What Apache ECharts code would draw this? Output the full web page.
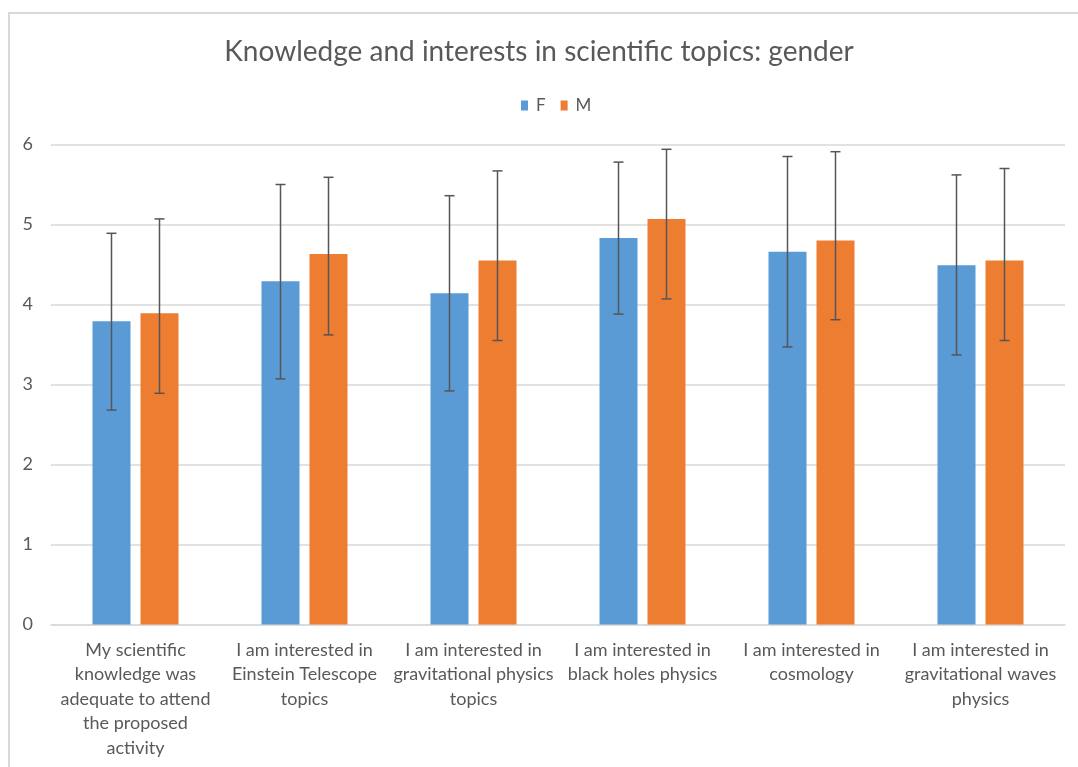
<!DOCTYPE html>
<html>
<head>
<meta charset="utf-8">
<script src="https://cdn.jsdelivr.net/npm/echarts@6/dist/echarts.min.js"></script>
<style>
  html, body { margin: 0; padding: 0; background: #ffffff; }
  #chart { width: 1078px; height: 767px; }
</style>
</head>
<body>
<div id="chart"></div>
<script>
// ---- data ----
const categories = [
  "My scientific\nknowledge was\nadequate to attend\nthe proposed\nactivity",
  "I am interested in\nEinstein Telescope\ntopics",
  "I am interested in\ngravitational physics\ntopics",
  "I am interested in\nblack holes physics",
  "I am interested in\ncosmology",
  "I am interested in\ngravitational waves\nphysics"
];
const seriesNames = ["F", "M"];
const valuesF = [3.79, 4.29, 4.14, 4.83, 4.66, 4.49];
const valuesM = [3.89, 4.63, 4.55, 5.07, 4.80, 4.55];
const errLowF  = [2.68, 3.07, 2.92, 3.88, 3.47, 3.37];
const errHighF = [4.89, 5.50, 5.36, 5.78, 5.85, 5.62];
const errLowM  = [2.89, 3.62, 3.55, 4.07, 3.81, 3.55];
const errHighM = [5.07, 5.59, 5.67, 5.94, 5.91, 5.70];
const yTicks = [0, 1, 2, 3, 4, 5, 6];

// ---- styling ----
const COLOR_F = "#5B9BD5";
const COLOR_M = "#ED7D31";
const TEXT = "#595959";
const BAR_W = 38;
const GAP_PX = 10;
const FONT = "Lato, 'Open Sans', sans-serif";

function errorSeries(name, lows, highs, sign) {
  return {
    type: "custom",
    name: name + " err",
    z: 10,
    silent: true,
    data: lows.map((lo, i) => [i, lo, highs[i]]),
    encode: { x: 0, y: [1, 2] },
    renderItem: function (params, api) {
      const xi = api.value(0);
      const lo = api.coord([xi, api.value(1)]);
      const hi = api.coord([xi, api.value(2)]);
      const x = lo[0] + sign * (BAR_W + GAP_PX) / 2;
      const cap = 5;
      const style = { stroke: "#555555", lineWidth: 1.5, fill: null };
      return {
        type: "group",
        children: [
          { type: "line", shape: { x1: x, y1: hi[1], x2: x, y2: lo[1] }, style: style },
          { type: "line", shape: { x1: x - cap, y1: hi[1], x2: x + cap, y2: hi[1] }, style: style },
          { type: "line", shape: { x1: x - cap, y1: lo[1], x2: x + cap, y2: lo[1] }, style: style }
        ]
      };
    }
  };
}

const chart = echarts.init(document.getElementById("chart"), null, { renderer: "canvas" });
chart.setOption({
  backgroundColor: "#ffffff",
  animation: false,
  graphic: [{
    type: "rect",
    shape: { x: 9, y: 13, width: 1200, height: 900 },
    style: { stroke: "#d9d9d9", lineWidth: 2, fill: null },
    silent: true,
    z: -10
  }],
  title: {
    text: "Knowledge and interests in scientific topics: gender",
    left: "center",
    top: 33,
    textStyle: { fontFamily: FONT, fontSize: 28, fontWeight: "normal", color: TEXT }
  },
  legend: {
    data: seriesNames,
    top: 92,
    left: 516,
    itemWidth: 7,
    itemHeight: 10,
    itemGap: 15,
    icon: "rect",
    textStyle: { fontFamily: FONT, fontSize: 17, color: TEXT, padding: [0, 0, 0, 3] }
  },
  grid: { left: 51, right: 13, top: 144.5, bottom: 142.5, containLabel: false },
  xAxis: {
    type: "category",
    data: categories,
    axisLine: { show: true, lineStyle: { color: "#d9d9d9", width: 1.5 } },
    axisTick: { show: false },
    axisLabel: {
      interval: 0,
      margin: 13,
      fontFamily: FONT,
      fontSize: 18,
      lineHeight: 24.5,
      color: TEXT,
      align: "center"
    }
  },
  yAxis: {
    type: "value",
    min: yTicks[0],
    max: yTicks[yTicks.length - 1],
    interval: 1,
    axisLine: { show: false },
    axisTick: { show: false },
    splitLine: { lineStyle: { color: "#d9d9d9", width: 1.5 } },
    axisLabel: { fontFamily: FONT, fontSize: 18, color: TEXT, margin: 18 }
  },
  series: [
    {
      name: "F", type: "bar", data: valuesF, barWidth: BAR_W,
      barGap: (GAP_PX / BAR_W * 100) + "%",
      itemStyle: { color: COLOR_F }
    },
    {
      name: "M", type: "bar", data: valuesM, barWidth: BAR_W,
      barGap: (GAP_PX / BAR_W * 100) + "%",
      itemStyle: { color: COLOR_M }
    },
    errorSeries("F", errLowF, errHighF, -1),
    errorSeries("M", errLowM, errHighM, 1)
  ]
});
</script>
</body>
</html>
